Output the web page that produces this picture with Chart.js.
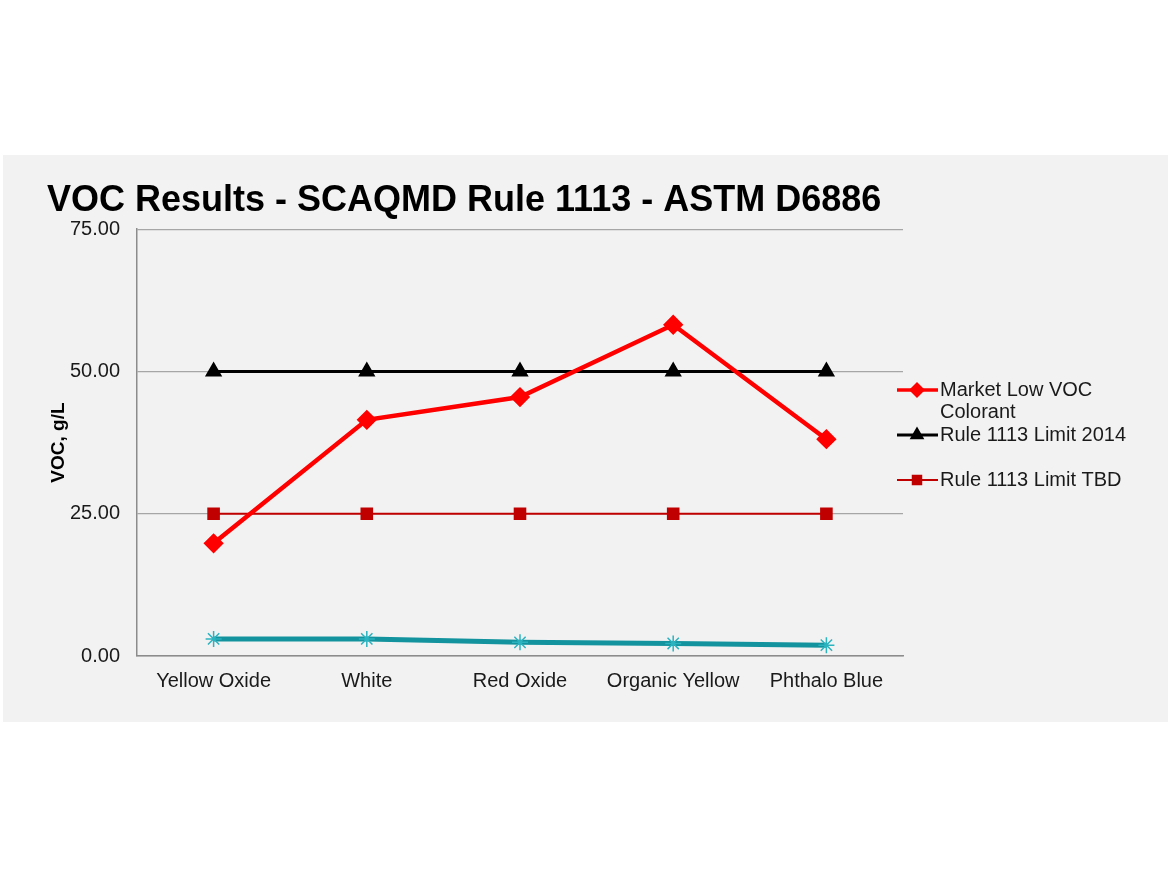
<!DOCTYPE html>
<html>
<head>
<meta charset="utf-8">
<script src="https://cdn.jsdelivr.net/npm/chart.js@4/dist/chart.umd.min.js"></script>
<style>
  body { margin: 0; background: #ffffff; }
  #panel {
    position: absolute;
    left: 3px; top: 155px;
    width: 1165px; height: 567px;
    background: #f2f2f2;
  }
</style>
</head>
<body>
<div id="panel"><canvas id="line-chart"></canvas></div>
<script>
// categories along the bottom
const categories = ["Yellow Oxide", "White", "Red Oxide", "Organic Yellow", "Phthalo Blue"];

// series values (VOC, g/L)
const marketLowVoc = [19.8, 41.5, 45.5, 58.2, 38.1];
const limit2014 = [50, 50, 50, 50, 50];
const limitTBD = [25, 25, 25, 25, 25];
const lowSeries = [3.0, 3.0, 2.4, 2.2, 1.9];

// y axis ticks
const yTicks = [0, 25, 50, 75];

const fontFamily = "Arial, 'Liberation Sans', sans-serif";

// draws the legend on the right like the excel one (teal series is left out)
const sideLegend = {
    id: 'sideLegend',
    afterDraw(chart) {
        const ctx = chart.ctx;
        const area = chart.chartArea;
        var x0 = area.right - 6;
        var y = 235;
        ctx.save();
        ctx.textBaseline = "middle";
        chart.data.datasets.forEach(function (ds) {
            if (!ds.legendLines) return;
            // line sample
            ctx.strokeStyle = ds.borderColor;
            ctx.lineWidth = Math.min(ds.borderWidth, 3.5);
            ctx.beginPath();
            ctx.moveTo(x0, y);
            ctx.lineTo(x0 + 41, y);
            ctx.stroke();
            // marker
            ctx.fillStyle = ds.backgroundColor;
            ctx.strokeStyle = ds.borderColor;
            Chart.helpers.drawPoint(ctx, {
                pointStyle: ds.pointStyle,
                radius: ds.pointRadius - 1.5,
                borderWidth: 1
            }, x0 + 20, y);
            ctx.font = "20px " + fontFamily;
            ctx.fillStyle = "#1a1a1a";
            ds.legendLines.forEach(function (line, i) {
                ctx.fillText(line, x0 + 43, y + i * 22);
            });
            y += 45;
        });
        ctx.restore();
    }
};

Chart.defaults.font.family = fontFamily;

const config = {
    type: 'line',
    data: {
        labels: categories,
        datasets: [{
            label: "Market Low VOC Colorant",
            legendLines: ["Market Low VOC", "Colorant"],
            data: marketLowVoc,
            borderColor: "#ff0000",
            backgroundColor: "#ff0000",
            borderWidth: 4.5,
            pointStyle: 'rectRot',
            pointRadius: 7,
            pointHoverRadius: 7,
            order: 1
        }, {
            label: "Rule 1113 Limit 2014",
            legendLines: ["Rule 1113 Limit 2014"],
            data: limit2014,
            borderColor: "#000000",
            backgroundColor: "#000000",
            borderWidth: 3,
            pointStyle: 'triangle',
            pointRadius: 7,
            pointHoverRadius: 7,
            order: 2
        }, {
            label: "Rule 1113 Limit TBD",
            legendLines: ["Rule 1113 Limit TBD"],
            data: limitTBD,
            borderColor: "#c00000",
            backgroundColor: "#c00000",
            borderWidth: 2,
            pointStyle: 'rect',
            pointRadius: 7.5,
            pointHoverRadius: 7.5,
            order: 3
        }, {
            label: "Series 4",
            data: lowSeries,
            borderColor: "#12939d",
            backgroundColor: "#2bb3c0",
            pointBorderColor: "#2bb3c0",
            borderWidth: 5,
            pointStyle: 'star',
            pointRadius: 8,
            pointBorderWidth: 1.5,
            order: 4
        }]
    },
    options: {
        responsive: true,
        maintainAspectRatio: false,
        animation: false,
        layout: {
            padding: { left: 44, top: 0, right: 265, bottom: 0 }
        },
        plugins: {
            legend: { display: false },
            tooltip: { enabled: false },
            title: {
                display: true,
                text: "VOC Results - SCAQMD Rule 1113 - ASTM D6886",
                align: 'start',
                color: "#000000",
                font: { size: 36, weight: 'bold', family: fontFamily, lineHeight: 1.2 },
                padding: { top: 24, bottom: 7 }
            }
        },
        scales: {
            x: {
                offset: true,
                grid: { display: false, drawTicks: false },
                border: { color: "#8c8c8c", width: 1.5 },
                ticks: {
                    color: "#1a1a1a",
                    font: { size: 20 },
                    padding: 13,
                    maxRotation: 0
                },
                afterFit: function (scale) { scale.height = 66; }
            },
            y: {
                min: 0,
                max: 75,
                afterBuildTicks: function (scale) {
                    scale.ticks = yTicks.map(function (v) { return { value: v }; });
                },
                grid: { color: "#a6a6a6", lineWidth: 1.3, drawTicks: false },
                border: { color: "#8c8c8c", width: 1.5 },
                ticks: {
                    color: "#1a1a1a",
                    font: { size: 20 },
                    padding: 17,
                    callback: function (v) { return Number(v).toFixed(2); }
                },
                title: {
                    display: true,
                    text: "VOC, g/L",
                    color: "#000000",
                    font: { size: 19, weight: 'bold' },
                    padding: { top: 0, bottom: 0 }
                },
                afterFit: function (scale) { scale.width = 90; }
            }
        }
    },
    plugins: [sideLegend]
};

const lineChart = new Chart(document.getElementById('line-chart'), config);
</script>
</body>
</html>
